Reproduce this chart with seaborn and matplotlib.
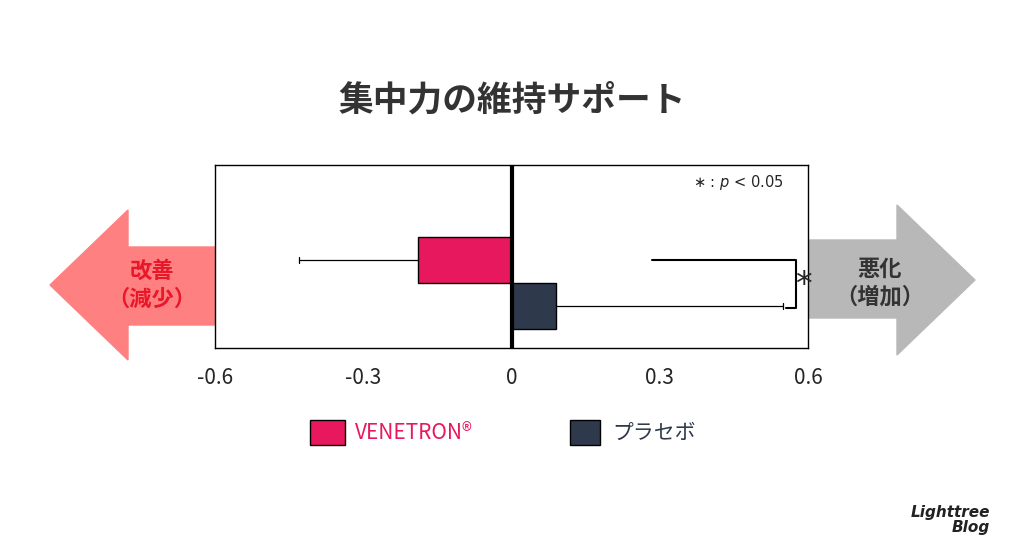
import matplotlib
matplotlib.use("Agg")
import matplotlib.pyplot as plt
from matplotlib.patches import Polygon, Rectangle
import seaborn as sns

# Data
groups = ['VENETRON®', 'プラセボ']
values = [-0.19, 0.09]
err_ends = [-0.43, 0.55]
colors = ['#E8185E', '#2E3A4B']
ticks = [-0.6, -0.3, 0, 0.3, 0.6]
tick_labels = ['-0.6', '-0.3', '0', '0.3', '0.6']

sns.set_theme(style="white")
plt.rcParams['font.family'] = ['Noto Sans CJK JP', 'DejaVu Sans']

W, H = 1024, 538
fig = plt.figure(figsize=(10.24, 5.38), dpi=100)
fig.patch.set_facecolor('white')

def fx(x):
    return x / W

def fy(y):
    return 1 - y / H

ax = fig.add_axes([fx(215), fy(348), fx(808) - fx(215), fy(165) - fy(348)])
ax.set_zorder(2)
sns.barplot(x=values, y=groups, hue=groups, palette=colors, width=1.0, saturation=1,
            edgecolor='black', linewidth=1, legend=False, ax=ax, orient='h')
for i, (v, e) in enumerate(zip(values, err_ends)):
    ax.plot([v, e], [i, i], color='black', lw=0.9)
    ax.plot([e, e], [i - 0.06, i + 0.06], color='black', lw=0.9)
ax.axvline(0, color='black', lw=3)
ax.set_xlim(-0.6, 0.6)
ax.set_ylim(1.91, -2.07)
ax.set_xticks(ticks)
ax.set_xticklabels(tick_labels, fontsize=15)
ax.set_yticks([])
ax.set_ylabel('')
ax.tick_params(axis='x', length=0, pad=14)
for s in ax.spines.values():
    s.set_color('black')
    s.set_linewidth(1)

# significance bracket
ax.plot([0.285, 0.575, 0.575, 0.555], [0.0, 0.0, 1.04, 1.04], color='black', lw=1.5,
        clip_on=False)
ax.text(0.59, 0.55, '*', fontsize=24, ha='center', va='center', clip_on=False,
        family=['DejaVu Sans'])
ax.text(0.55, -1.7, '∗ : $p$ < 0.05', fontsize=10.5, ha='right', va='center',
        family=['DejaVu Sans'])

# arrows
left = [(50, 285), (128, 210), (128, 247), (215, 247), (215, 325), (128, 325), (128, 360)]
right = [(975, 280), (897, 205), (897, 240), (808, 240), (808, 318), (897, 318), (897, 355)]
fig.patches.append(Polygon([(fx(x), fy(y)) for x, y in left], closed=True,
                           transform=fig.transFigure, color='#FF8080', zorder=0))
fig.patches.append(Polygon([(fx(x), fy(y)) for x, y in right], closed=True,
                           transform=fig.transFigure, color='#B8B8B8', zorder=0))
fig.text(fx(152), fy(285), '改善\n（減少）', color='#E8182A', fontsize=16,
         fontweight='bold', ha='center', va='center', linespacing=1.3)
fig.text(fx(880), fy(283), '悪化\n（増加）', color='#333333', fontsize=16,
         fontweight='bold', ha='center', va='center', linespacing=1.3)

fig.text(0.5, fy(100), '集中力の維持サポート', fontsize=25, fontweight='bold',
         color='#333333', ha='center', va='center')

# legend
fig.patches.append(Rectangle((fx(310), fy(445)), fx(35), fy(420) - fy(445),
                             transform=fig.transFigure, facecolor=colors[0], edgecolor='black', lw=1))
fig.text(fx(355), fy(433), groups[0], color='#E8185E', fontsize=15, va='center')
fig.patches.append(Rectangle((fx(570), fy(445)), fx(30), fy(420) - fy(445),
                             transform=fig.transFigure, facecolor=colors[1], edgecolor='black', lw=1))
fig.text(fx(612), fy(433), groups[1], color='#2E3A4B', fontsize=15, va='center')

fig.text(fx(990), fy(520), 'Lighttree\nBlog', fontsize=11, fontstyle='italic',
         fontweight='bold', color='#222222', ha='right', va='center', linespacing=1.0,
         family=['DejaVu Sans'])

fig.savefig('out.png', dpi=100)
